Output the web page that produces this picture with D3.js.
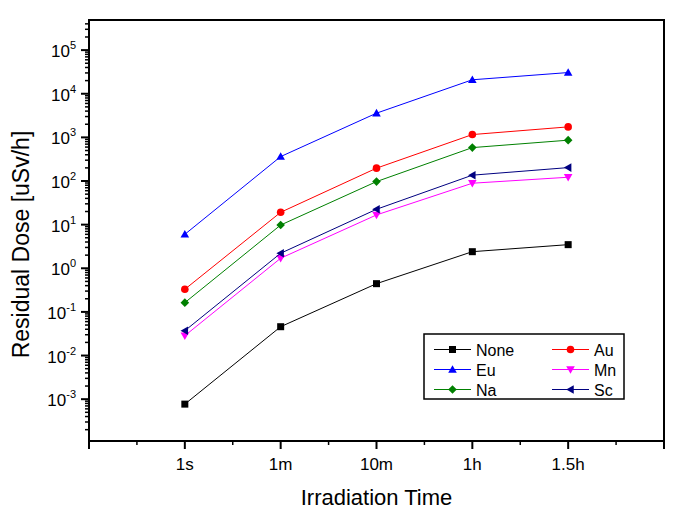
<!DOCTYPE html>
<html>
<head>
<meta charset="utf-8">
<script src="https://cdn.jsdelivr.net/npm/d3@7"></script>
<style>
  body { margin: 0; background: #fff; }
  svg { display: block; font-family: Arial, "Liberation Sans", sans-serif; }
</style>
</head>
<body>
<svg id="chart" width="685" height="510"></svg>
<script>
// ---- data ----
const categories = ["1s", "1m", "10m", "1h", "1.5h"];
const seriesNames = ["None", "Au", "Eu", "Mn", "Na", "Sc"];
const noneValues = [0.00077, 0.0458, 0.444, 2.40, 3.48];
const auValues   = [0.33, 19.2, 197, 1160, 1740];
const euValues   = [6.0, 363, 3590, 20900, 30600];
const mnValues   = [0.0285, 1.70, 16.7, 89, 122];
const naValues   = [0.163, 9.8, 97, 583, 863];
const scValues   = [0.037, 2.21, 22.5, 136, 203];
const yTickExponents = [-3, -2, -1, 0, 1, 2, 3, 4, 5];
const xLabel = "Irradiation Time";
const yLabel = "Residual Dose [uSv/h]";

const series = [
  { name: "None", values: noneValues, color: "#000000", symbol: "square" },
  { name: "Au",   values: auValues,   color: "#ff0000", symbol: "circle" },
  { name: "Eu",   values: euValues,   color: "#0000ff", symbol: "triUp" },
  { name: "Mn",   values: mnValues,   color: "#ff00ff", symbol: "triDown" },
  { name: "Na",   values: naValues,   color: "#008000", symbol: "diamond" },
  { name: "Sc",   values: scValues,   color: "#000080", symbol: "triLeft" }
];

// ---- layout ----
const svg = d3.select("#chart");
const L = 89, R = 664, T = 20, B = 441;

const x = d3.scaleLinear().domain([0, categories.length + 1]).range([L, R]);
const y = d3.scaleLog().domain([1.1e-4, 4.9e5]).range([B, T]);

// frame
svg.append("rect").attr("x", L).attr("y", T).attr("width", R - L).attr("height", B - T)
  .attr("fill", "none").attr("stroke", "#000").attr("stroke-width", 2);

// x axis ticks
const xMajor = d3.range(0, categories.length + 2);
const xMinor = d3.range(0.5, categories.length + 1, 1);
svg.selectAll(".xmaj").data(xMajor).join("line")
  .attr("x1", d => x(d)).attr("x2", d => x(d)).attr("y1", B).attr("y2", B + 8)
  .attr("stroke", "#000").attr("stroke-width", 2);
svg.selectAll(".xmin").data(xMinor).join("line")
  .attr("x1", d => x(d)).attr("x2", d => x(d)).attr("y1", B).attr("y2", B + 4)
  .attr("stroke", "#000").attr("stroke-width", 1.5);
svg.selectAll(".xlab").data(categories).join("text")
  .attr("x", (d, i) => x(i + 1)).attr("y", 470)
  .attr("text-anchor", "middle").attr("font-size", 17).text(d => d);

// y axis ticks
const [d0, d1] = y.domain();
const yMinor = [];
for (let e = Math.floor(Math.log10(d0)); e <= Math.ceil(Math.log10(d1)); e++) {
  for (let m = 2; m <= 9; m++) {
    const v = m * Math.pow(10, e);
    if (v >= d0 && v <= d1) yMinor.push(v);
  }
}
const yMajor = [-4, ...yTickExponents].map(e => Math.pow(10, e)).filter(v => v >= d0 && v <= d1);
svg.selectAll(".ymin").data(yMinor).join("line")
  .attr("x1", L - 4).attr("x2", L).attr("y1", d => y(d)).attr("y2", d => y(d))
  .attr("stroke", "#000").attr("stroke-width", 1.5);
svg.selectAll(".ymaj").data(yMajor).join("line")
  .attr("x1", L - 8).attr("x2", L).attr("y1", d => y(d)).attr("y2", d => y(d))
  .attr("stroke", "#000").attr("stroke-width", 2);
const ylab = svg.selectAll(".ylab").data(yTickExponents).join("text")
  .attr("x", 76).attr("y", d => y(Math.pow(10, d)) + 7)
  .attr("text-anchor", "end").attr("font-size", 17);
ylab.append("tspan").text("10");
ylab.append("tspan").attr("dy", -8).attr("font-size", 11).text(d => d < 0 ? "-" + (-d) : String(d));

// axis titles
svg.append("text").attr("x", (L + R) / 2).attr("y", 505)
  .attr("text-anchor", "middle").attr("font-size", 22).text(xLabel);
svg.append("text").attr("transform", `translate(29,${(T + B) / 2 + 14}) rotate(-90)`)
  .attr("text-anchor", "middle").attr("font-size", 23).text(yLabel);

// symbols
function drawSymbol(g, type, cx, cy, color) {
  if (type === "square") {
    g.append("rect").attr("x", cx - 3.5).attr("y", cy - 3.5).attr("width", 7).attr("height", 7).attr("fill", color);
  } else if (type === "circle") {
    g.append("circle").attr("cx", cx).attr("cy", cy).attr("r", 3.8).attr("fill", color);
  } else {
    let pts;
    const s = 4.3;
    if (type === "triUp") pts = [[cx, cy - s], [cx - s, cy + s * 0.75], [cx + s, cy + s * 0.75]];
    else if (type === "triDown") pts = [[cx, cy + s], [cx - s, cy - s * 0.75], [cx + s, cy - s * 0.75]];
    else if (type === "triLeft") pts = [[cx - s, cy], [cx + s * 0.75, cy - s], [cx + s * 0.75, cy + s]];
    else if (type === "diamond") pts = [[cx, cy - 4.3], [cx + 4.3, cy], [cx, cy + 4.3], [cx - 4.3, cy]];
    g.append("polygon").attr("points", pts.map(p => p.join(",")).join(" ")).attr("fill", color);
  }
}

// lines and markers
const line = d3.line().x((d, i) => x(i + 1)).y(d => y(d));
series.forEach(s => {
  svg.append("path").attr("d", line(s.values)).attr("fill", "none")
    .attr("stroke", s.color).attr("stroke-width", 1);
  const g = svg.append("g");
  s.values.forEach((v, i) => drawSymbol(g, s.symbol, x(i + 1), y(v), s.color));
});

// legend
const lg = svg.append("g");
lg.append("rect").attr("x", 424).attr("y", 334).attr("width", 200).attr("height", 65)
  .attr("fill", "#fff").attr("stroke", "#000").attr("stroke-width", 1.5);
const legendOrder = ["None", "Au", "Eu", "Mn", "Na", "Sc"];
legendOrder.forEach((name, i) => {
  const s = series.find(d => d.name === name);
  const col = i % 2, row = Math.floor(i / 2);
  const x0 = col === 0 ? 434 : 552;
  const cy = 349.5 + row * 20;
  lg.append("line").attr("x1", x0).attr("x2", x0 + 37).attr("y1", cy).attr("y2", cy)
    .attr("stroke", s.color).attr("stroke-width", 1);
  drawSymbol(lg, s.symbol, x0 + 18.5, cy, s.color);
  lg.append("text").attr("x", x0 + 42).attr("y", cy + 6).attr("font-size", 16).text(s.name);
});
</script>
</body>
</html>
